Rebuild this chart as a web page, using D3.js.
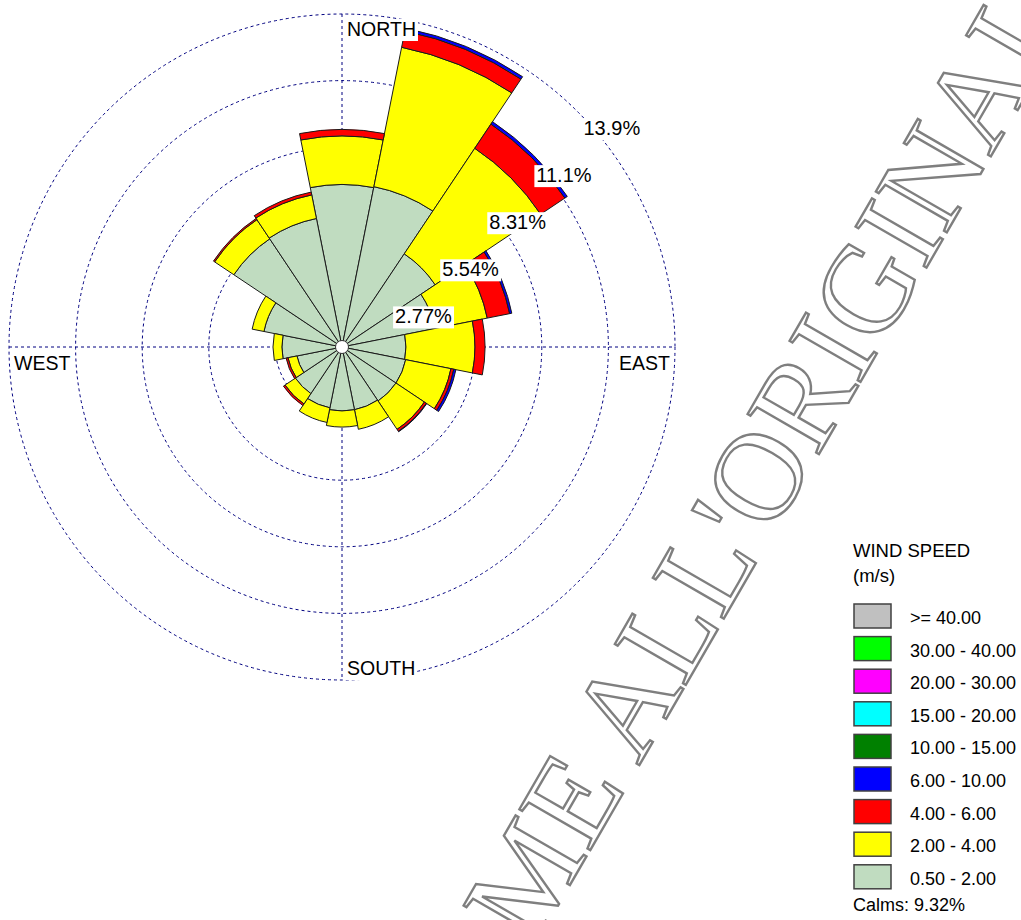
<!DOCTYPE html>
<html>
<head>
<meta charset="utf-8">
<script src="https://cdn.jsdelivr.net/npm/d3@7"></script>
<style>
  body { margin: 0; background: #ffffff; }
  svg { display: block; font-family: "Liberation Sans", Arial, sans-serif; }
</style>
</head>
<body>
<svg id="rose" width="1021" height="920"></svg>
<script>
// 16 compass sectors, clockwise from north
var directions = ["N", "NNE", "NE", "ENE", "E", "ESE", "SE", "SSE",
                  "S", "SSW", "SW", "WSW", "W", "WNW", "NW", "NNW"];

// frequency (%) per speed class, same order as directions
var speed05to2 = [6.76, 6.80, 4.66, 3.95, 2.66, 2.70, 2.70, 2.66, 2.66, 2.58, 2.33, 1.91, 2.50, 3.31, 5.41, 5.45];
var speed2to4  = [2.02, 5.91, 5.28, 2.21, 2.87, 1.92, 1.42, 0.83, 0.67, 0.62, 0.52, 0.38, 0.37, 0.50, 0.96, 1.00];
var speed4to6  = [0.27, 0.69, 1.21, 0.95, 0.42, 0.12, 0.10, 0.00, 0.00, 0.00, 0.08, 0.08, 0.00, 0.00, 0.06, 0.12];
var speed6to10 = [0.00, 0.12, 0.12, 0.09, 0.00, 0.09, 0.02, 0.00, 0.00, 0.00, 0.00, 0.00, 0.00, 0.00, 0.00, 0.00];

var ringValues = [2.77, 5.54, 8.31, 11.08, 13.85];
var ringLabels = ["2.77%", "5.54%", "8.31%", "11.1%", "13.9%"];

var legendLabels = [">= 40.00", "30.00 - 40.00", "20.00 - 30.00", "15.00 - 20.00",
                    "10.00 - 15.00", "6.00 - 10.00", "4.00 - 6.00", "2.00 - 4.00", "0.50 - 2.00"];
var legendColors = ["#c0c0c0", "#00ff00", "#ff00ff", "#00ffff",
                    "#008000", "#0000ff", "#ff0000", "#ffff00", "#c0dcc0"];
var calmsLabel = "Calms: 9.32%";
var watermarkText = "COME ALL'ORIGINALE";

var ROSE = { cx: 342, cy: 347, radius: 333 };
var LEGEND = { x: 854, titleY: 557, firstTop: 604, step: 32.6, boxW: 37, boxH: 24, textX: 910 };

var svg = d3.select("#rose");

// watermark sits behind everything
svg.append("text")
  .attr("transform", "translate(446,1100) rotate(-60)")
  .attr("font-family", "'Liberation Serif', 'Times New Roman', serif")
  .attr("font-size", 125)
  .attr("fill", "none")
  .attr("stroke", "#7f7f7f")
  .attr("stroke-width", 2.4)
  .text(watermarkText);

var rose = svg.append("g")
  .attr("transform", "translate(" + ROSE.cx + "," + ROSE.cy + ")");

var rScale = d3.scaleLinear()
  .domain([0, d3.max(ringValues)])
  .range([0, ROSE.radius]);

// sectors centred on each direction
var angleScale = d3.scaleBand()
  .domain(directions)
  .range([-Math.PI / 16, 2 * Math.PI - Math.PI / 16]);

// grid rings + crosshair
var grid = rose.append("g")
  .attr("fill", "none")
  .attr("stroke", "#000080")
  .attr("stroke-width", 1)
  .attr("stroke-dasharray", "3,3");

grid.selectAll("circle")
  .data(ringValues)
  .enter()
  .append("circle")
  .attr("r", function(d) { return rScale(d); });

var rMax = rScale(d3.max(ringValues));
grid.append("line").attr("x1", -rMax).attr("x2", rMax).attr("y1", 0).attr("y2", 0);
grid.append("line").attr("y1", -rMax).attr("y2", rMax).attr("x1", 0).attr("x2", 0);

// stacked table for the bars
var keys = ["s1", "s2", "s3", "s4"];
var colorByKey = { s1: "#c0dcc0", s2: "#ffff00", s3: "#ff0000", s4: "#0000ff" };
var table = directions.map(function(dir, i) {
  return { dir: dir, s1: speed05to2[i], s2: speed2to4[i], s3: speed4to6[i], s4: speed6to10[i] };
});
var stacked = d3.stack().keys(keys)(table);

var arc = d3.arc()
  .innerRadius(function(d) { return rScale(d[0]); })
  .outerRadius(function(d) { return rScale(d[1]); })
  .startAngle(function(d) { return angleScale(d.data.dir); })
  .endAngle(function(d) { return angleScale(d.data.dir) + angleScale.bandwidth(); });

rose.selectAll(".band")
  .data(stacked)
  .enter()
  .append("g")
  .attr("class", "band")
  .attr("fill", function(s) { return colorByKey[s.key]; })
  .selectAll("path")
  .data(function(s) { return s.filter(function(d) { return d[1] - d[0] > 0; }); })
  .enter()
  .append("path")
  .attr("d", arc)
  .attr("stroke", "#1a1a1a")
  .attr("stroke-width", 1)
  .attr("stroke-linejoin", "round");

// hub
rose.append("circle")
  .attr("r", 6.5)
  .attr("fill", "#ffffff")
  .attr("stroke", "#333333")
  .attr("stroke-width", 1);

function boxedText(parent, x, y, str, size, anchor) {
  var g = parent.append("g");
  var t = g.append("text")
    .attr("x", x)
    .attr("y", y)
    .attr("font-size", size)
    .attr("text-anchor", anchor || "start")
    .attr("fill", "#000000")
    .text(str);
  var bb = t.node().getBBox();
  g.insert("rect", "text")
    .attr("x", bb.x - 2)
    .attr("y", bb.y + 1)
    .attr("width", bb.width + 4)
    .attr("height", bb.height)
    .attr("fill", "#ffffff");
  return g;
}

// ring percentage labels, placed along the 45 degree line
var diag = Math.SQRT1_2;
ringValues.forEach(function(v, i) {
  var r = rScale(v);
  boxedText(rose, r * diag + 6, -r * diag + 23.5, ringLabels[i], 20);
});

// compass labels
boxedText(rose, 5, -rMax + 22, "NORTH", 19.5);
boxedText(rose, -rMax + 5, 23, "WEST", 19.5);
boxedText(rose, rMax - 5, 23, "EAST", 19.5, "end");
boxedText(rose, 5, rMax - 5, "SOUTH", 19.5);

// legend
var legend = svg.append("g");
legend.append("text")
  .attr("x", LEGEND.x - 1)
  .attr("y", LEGEND.titleY)
  .attr("font-size", 18.5)
  .text("WIND SPEED");
legend.append("text")
  .attr("x", LEGEND.x - 1)
  .attr("y", LEGEND.titleY + 25)
  .attr("font-size", 18.5)
  .text("(m/s)");

var rows = legend.selectAll(".row")
  .data(legendLabels)
  .enter()
  .append("g")
  .attr("class", "row")
  .attr("transform", function(d, i) { return "translate(0," + (LEGEND.firstTop + i * LEGEND.step) + ")"; });

rows.append("rect")
  .attr("x", LEGEND.x)
  .attr("y", 0)
  .attr("width", LEGEND.boxW)
  .attr("height", LEGEND.boxH)
  .attr("fill", function(d, i) { return legendColors[i]; })
  .attr("stroke", "#404040")
  .attr("stroke-width", 1.5);

rows.append("text")
  .attr("x", LEGEND.textX)
  .attr("y", 20)
  .attr("font-size", 18)
  .text(function(d) { return d; });

legend.append("text")
  .attr("x", LEGEND.x - 1)
  .attr("y", 911)
  .attr("font-size", 18)
  .text(calmsLabel);
</script>
</body>
</html>
